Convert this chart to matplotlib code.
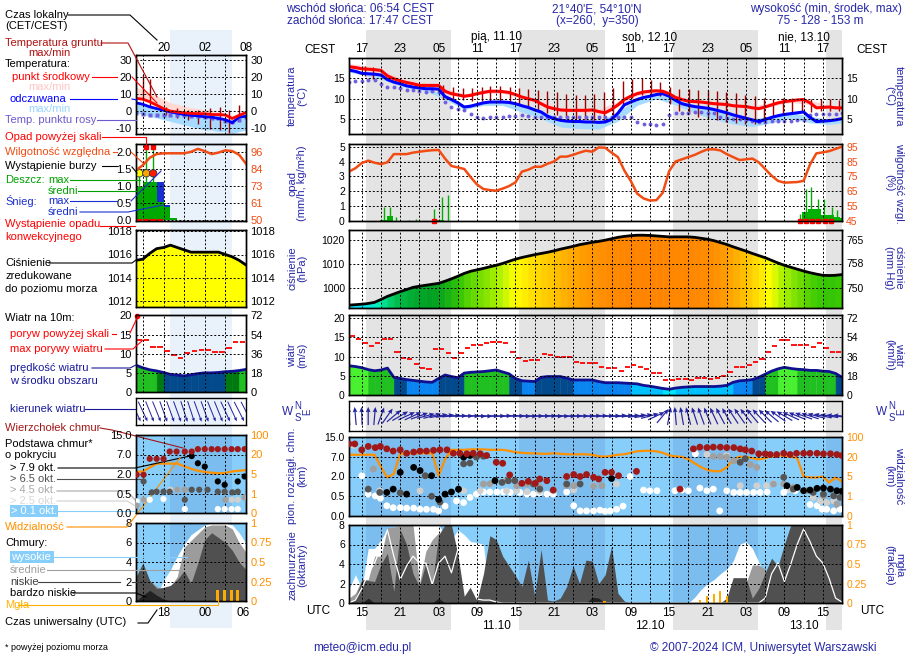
import numpy as np
import matplotlib
matplotlib.use('Agg')
import matplotlib.pyplot as plt
from matplotlib.lines import Line2D
from matplotlib.patches import Rectangle
from matplotlib.colors import LinearSegmentedColormap, Normalize
import matplotlib.transforms as mtransforms

plt.rcParams['font.family'] = ['Liberation Sans', 'DejaVu Sans']

W, H = 910, 660
fig = plt.figure(figsize=(W / 100, H / 100), dpi=100)
fig.patch.set_facecolor('white')

# ======================= DATA (main meteogram, hourly; hour 0 = 13 UTC 10.10) =======================
hours = np.arange(78)
cest_labels = ['17', '23', '05', '11', '17', '23', '05', '11', '17', '23', '05', '11', '17']
utc_labels = ['15', '21', '03', '09', '15', '21', '03', '09', '15', '21', '03', '09', '15']
day_hours = [23, 47, 71]
day_labels_top = ['pią, 11.10', 'sob, 12.10', 'nie, 13.10']
day_labels_bottom = ['11.10', '12.10', '13.10']
night_spans = [(2.7, 15.9), (26.6, 40.0), (50.6, 63.9), (74.5, 77.0)]

temp = [17.7, 17.5, 17.2, 17.1, 17.0, 16.8, 15.5, 14.8, 14.3, 13.9,
        13.6, 13.2, 13.2, 13.2, 13.2, 11.8, 11.2, 10.9, 10.6, 10.8,
        11.2, 11.5, 11.8, 11.8, 11.7, 11.5, 11.0, 10.4, 10.0, 9.6,
        8.8, 8.0, 7.6, 7.3, 7.2, 7.2, 7.2, 7.2, 7.3, 6.9,
        6.6, 7.4, 8.5, 9.8, 10.6, 11.2, 11.6, 11.8, 11.9, 11.8,
        11.2, 10.3, 9.8, 9.4, 9.3, 9.2, 9.0, 8.8, 8.7, 8.6,
        8.3, 8.2, 8.1, 7.8, 7.6, 8.0, 8.5, 9.0, 9.3, 9.5,
        9.7, 9.8, 9.0, 7.8, 7.9, 8.0, 7.8, 7.8]
feels = [16.9, 16.6, 16.1, 16.0, 15.9, 15.7, 14.6, 14.0, 13.6, 13.1,
         12.8, 12.6, 12.4, 12.4, 12.3, 10.5, 9.8, 9.0, 8.0, 8.2,
         8.6, 9.0, 9.2, 9.2, 9.2, 9.1, 8.8, 8.3, 7.9, 7.3,
         6.8, 5.8, 5.2, 4.8, 4.6, 4.5, 4.5, 4.4, 4.4, 4.3,
         4.4, 5.0, 6.5, 8.5, 9.2, 9.8, 10.3, 10.6, 11.0, 11.2,
         10.6, 9.6, 8.8, 8.4, 8.1, 7.9, 7.7, 7.4, 7.0, 6.6,
         6.1, 5.7, 5.3, 4.9, 4.5, 5.0, 5.5, 5.9, 6.2, 6.4,
         6.6, 6.8, 5.5, 4.5, 4.6, 4.7, 4.9, 5.2]
dew = [14.0, 14.2, 14.3, 14.4, 14.4, 13.6, 12.9, 12.7, 12.5, 12.2,
       12.0, 11.8, 11.7, 11.8, 11.6, 9.2, 8.0, 7.5, 7.2, 6.4,
       5.7, 5.4, 5.6, 5.6, 5.7, 5.9, 5.8, 6.0, 5.8, 5.7,
       5.6, 5.5, 5.5, 5.5, 5.5, 5.6, 5.5, 5.5, 5.6, 5.5,
       5.5, 5.5, 5.5, 5.5, 5.5, 4.3, 4.0, 3.8, 3.7, 4.0,
       6.0, 6.6, 6.6, 6.6, 6.8, 6.7, 6.6, 6.5, 5.6, 5.3,
       5.2, 5.0, 4.8, 4.6, 4.5, 4.5, 4.6, 4.6, 4.7, 4.7,
       4.8, 4.8, 6.0, 6.3, 6.4, 6.4, 6.4, 6.6]
band_hours = [0, 3, 6, 9, 12, 15, 18, 21, 24, 27, 30, 33, 36, 39, 42, 45, 48, 51, 54, 57, 60, 63, 66, 69, 72, 75, 77]
temp_max = [18.5, 17.8, 16.2, 14.5, 13.8, 12.4, 11.2, 12.1, 12.3, 11.0, 9.3, 7.8, 7.7, 7.5, 9.3, 11.9, 12.5, 10.8,
            9.8, 9.3, 8.8, 8.3, 9.1, 10.1, 9.6, 8.4, 8.2]
temp_min = [17.3, 16.8, 15.2, 13.6, 12.9, 11.4, 10.3, 11.2, 11.3, 10.0, 8.4, 7.0, 6.8, 6.5, 8.2, 10.7, 11.5, 9.9,
            9.0, 8.5, 8.0, 7.5, 8.2, 9.1, 8.6, 7.6, 7.5]
feels_max = [17.2, 16.3, 15.0, 13.4, 12.7, 10.8, 8.4, 9.4, 9.5, 8.6, 7.1, 5.1, 4.8, 4.6, 6.8, 10.1, 11.3, 9.9,
             8.4, 7.7, 6.4, 5.2, 5.8, 6.7, 5.8, 5.0, 5.5]
feels_min = [16.4, 15.5, 14.2, 12.6, 11.9, 9.8, 7.4, 8.4, 8.4, 6.8, 5.2, 3.2, 2.8, 2.7, 4.6, 8.4, 10.0, 8.5,
             6.5, 5.0, 3.9, 3.3, 4.2, 5.2, 4.2, 3.8, 4.2]
gt_hours = [2.5, 3.8, 14.7, 16.3, 17.8, 19.2, 20.7, 22.1, 23.6, 25.1, 26.6, 28.0, 29.5, 31.0, 32.5, 33.9, 35.4,
            36.9, 38.3, 39.8, 41.3, 42.8, 44.2, 45.7, 47.2, 48.6, 50.1, 51.6, 53.1, 54.5, 56.0, 57.5, 58.9,
            60.4, 61.9, 63.4, 64.8, 66.3, 67.8, 69.2, 70.7, 72.2, 73.7, 75.1, 76.6]
gt_max = [17.8, 17.6, 13.4, 12.8, 12.6, 12.6, 12.8, 13.0, 13.0, 12.8, 12.6, 12.4, 12.2, 11.8, 11.5, 11.2, 11.0,
          11.0, 11.2, 11.5, 12.6, 14.2, 14.8, 15.0, 14.6, 14.0, 12.8, 12.4, 12.4, 12.2, 12.0, 11.8, 11.6,
          11.4, 11.0, 10.6, 10.2, 10.0, 10.2, 10.2, 10.0, 10.0, 10.0, 10.0, 9.8]
gt_min = [15.5, 14.8, 10.0, 10.0, 9.8, 9.5, 9.4, 9.3, 9.2, 9.0, 8.6, 7.8, 7.2, 6.6, 6.0, 5.5, 5.2,
          5.0, 4.8, 4.4, 6.0, 8.8, 10.2, 10.8, 11.0, 10.6, 8.8, 7.0, 6.2, 5.6, 5.2, 4.8, 4.4,
          4.2, 4.0, 3.8, 4.5, 5.5, 6.2, 6.6, 6.8, 6.8, 7.0, 7.0, 7.0]

rh = [78.2, 80.5, 84, 85.6, 84.2, 83.3, 84.5, 90, 90, 90,
      91, 91.6, 92.2, 92.6, 92.8, 87, 82, 81, 80, 74.5,
      69.5, 66.5, 65.8, 65.4, 66.8, 68.5, 71, 78.2, 79.5, 81.5,
      81.5, 83.5, 85, 88.3, 88.3, 89.5, 91, 92.3, 91.6, 94.5,
      94.3, 91, 88, 79, 72, 63.5, 60.2, 58.8, 59, 64,
      78.5, 85, 86.5, 88, 89.5, 91.5, 93.2, 93.2, 92.5, 90,
      88, 86, 86.5, 87, 84.5, 80, 75.5, 72, 70.8, 71,
      71.2, 72, 83, 90.5, 91.2, 92, 93.5, 95]
rain_mean_hours = [4.9, 5.9, 12.9, 13.9, 70.7, 71.7, 72.7, 73.7, 74.7, 75.7, 76.7]
rain_mean_vals = [0.05, 0.34, 0.04, 0.05, 0.63, 0.78, 0.78, 0.4, 0.4, 0.3, 0.2]
rain_max_hours = [5.4, 6.4, 7.4, 9.4, 10.5, 13.3, 14.5, 15.4, 70.5, 71.3, 72.2, 73.3, 74.2, 75.4, 76.2]
rain_max_vals = [0.96, 0.96, 0.25, 0.08, 0.12, 0.78, 1.64, 1.75, 0.5, 2.13, 2.26, 1.46, 1.46, 0.96, 0.74]
occ_hours = [13.3, 70.5, 71.3, 72.3, 73.3, 74.3, 75.3]

pressure = [992.6, 992.8, 993.0, 993.3, 993.8, 995.0, 996.3, 997.3, 998.3, 999.2,
            1000.1, 1000.6, 1001.0, 1001.4, 1001.8, 1002.7, 1003.7, 1004.8, 1006.0, 1006.9,
            1007.5, 1008.1, 1008.8, 1009.4, 1010.2, 1011.1, 1012.0, 1012.7, 1013.3, 1013.9,
            1014.4, 1014.9, 1015.5, 1016.2, 1016.8, 1017.4, 1018.1, 1018.6, 1019.1, 1019.5,
            1020.0, 1020.6, 1021.2, 1021.6, 1021.9, 1022.1, 1022.1, 1022.0, 1021.8, 1021.6,
            1021.4, 1021.4, 1021.4, 1021.4, 1021.2, 1020.8, 1020.4, 1019.8, 1019.0, 1018.2,
            1017.2, 1016.3, 1015.4, 1014.4, 1013.5, 1012.6, 1011.5, 1010.4, 1009.4, 1008.6,
            1007.8, 1007.0, 1006.3, 1005.7, 1005.2, 1005.1, 1005.2, 1005.5]

wind = [7.6, 7.4, 7.1, 6.6, 6.3, 6.5, 7.0, 4.6, 4.3, 4.0,
        3.8, 3.6, 3.4, 3.3, 4.3, 5.2, 4.8, 4.5, 5.7, 5.9,
        6.0, 6.1, 6.3, 6.5, 6.0, 5.5, 4.3, 3.7, 3.6, 3.5,
        4.6, 4.8, 4.8, 4.8, 4.4, 3.9, 3.9, 3.9, 3.9, 3.5,
        3.2, 3.2, 3.2, 3.1, 3.0, 2.9, 2.5, 2.3, 2.0, 1.7,
        1.5, 1.8, 2.0, 2.1, 2.2, 2.2, 2.2, 2.2, 2.3, 2.5,
        3.3, 3.7, 3.8, 4.0, 4.6, 5.4, 6.2, 6.8, 7.2, 6.9,
        6.7, 6.6, 6.4, 6.4, 6.2, 6.1, 5.6, 4.6]
gust = [15.4, 14.5, 13.5, 12.8, 13.5, 14.5, 14.5, 11.1, 9.6, 9.3,
        8.1, 7.0, 6.7, 11.9, 11.9, 11.0, 9.6, 11.0, 12.2, 13.0,
        13.0, 13.5, 13.7, 13.7, 13.5, 11.3, 9.6, 8.9, 9.1, 9.1,
        10.7, 10.4, 9.8, 9.8, 9.8, 8.5, 8.3, 8.4, 8.4, 7.4,
        7.0, 7.0, 6.3, 7.4, 7.8, 7.4, 6.7, 5.8, 5.8, 3.9,
        3.9, 4.1, 4.1, 3.9, 4.5, 4.5, 4.2, 4.3, 5.0, 6.1,
        7.4, 7.4, 7.8, 8.5, 9.3, 11.3, 12.8, 14.3, 14.3, 13.0,
        13.0, 13.0, 12.6, 13.5, 12.2, 11.1, 11.1]
wdir = [175, 175, 178, 180, 185, 200, 215, 230, 240, 245,
        245, 250, 255, 255, 260, 262, 265, 268, 270, 270,
        272, 272, 270, 270, 268, 268, 270, 272, 272, 270,
        270, 270, 272, 272, 272, 270, 270, 270, 268, 268,
        268, 268, 265, 265, 265, 262, 260, 255, 245, 220,
        190, 175, 170, 165, 162, 160, 158, 155, 152, 150,
        147, 145, 142, 140, 137, 135, 130, 125, 120, 115,
        112, 110, 108, 105, 102, 100, 97, 95]

vis = [28, 28, 28, 28, 28, 12, 4.8, 7, 32, 34,
       34, 34, 34, 34, 5.6, 18, 48, 48, 48, 50,
       50, 50, 48, 48, 48, 44, 38, 36, 34, 34,
       32, 32, 34, 32, 30, 30, 30, 30, 28, 22,
       20, 24, 28, 30, 36, 42, 44, 44, 42, 36,
       26, 21, 20, 18, 15, 12, 10, 9, 9, 12,
       18, 20, 20, 19, 18, 19, 22, 26, 24, 20,
       19, 5, 4.8, 4.8, 5, 3.8, 4.8, 4]
tops_h = [0, 0.9, 2.0, 3.0, 4.1, 4.9, 5.9, 6.9, 8.0, 9.0, 10.1, 11.1, 12.1, 13.2, 14.2, 15.3, 16.3, 17.3, 18.4,
          19.4, 20.5, 21.5, 23.0, 24.0, 25.1, 27.0, 28.0, 29.1, 29.8, 30.9, 31.9, 34.0, 35.1, 36.1, 37.1, 38.2,
          39.0, 40.0, 41.0, 42.1, 44.9, 51.7, 53.8, 54.8, 55.9, 56.9, 58.0, 59.0, 60.1, 61.1, 61.9, 62.9, 64.0,
          65.0, 65.8, 66.8, 67.9, 68.9, 69.9, 71.0, 72.0, 73.1, 74.1, 75.2, 76.2, 77.0]
tops_km = [12.2, 12.2, 9.8, 11.2, 10.7, 11.2, 10.2, 9.3, 9.8, 8.4, 8.9, 9.3, 9.3, 9.6, 9.8, 9.8, 8.4, 8.4, 8.2,
           8.4, 8.2, 7.5, 5.6, 5.35, 2.4, 1.48, 1.63, 1.48, 1.81, 1.68, 0.97, 2.0, 2.5, 2.0, 2.5, 1.94,
           1.81, 3.05, 3.05, 2.2, 3.3, 1.04, 10.2, 10.9, 10.7, 10.9, 10.9, 10.7, 10.7, 10.2, 9.8, 9.3, 8.2,
           8.2, 7.9, 7.9, 8.4, 7.9, 8.4, 8.4, 8.4, 8.4, 8.2, 8.2, 7.9, 7.5]
black_h = [5.9, 6.9, 8.0, 9.0, 10.1, 11.1, 12.9, 14.0, 15.0, 16.0, 17.1, 17.9, 18.9, 22.8, 41.0, 68.4, 70.0,
           71.0, 72.0, 73.1, 74.1, 75.2, 76.2, 77.0]
black_km = [0.79, 1.04, 3.05, 0.66, 4.3, 3.5, 2.2, 0.42, 0.66, 0.82, 1.04, 6.9, 7.5, 1.68, 1.85, 1.3, 1.17,
            0.92, 0.97, 1.1, 1.12, 1.04, 0.92, 0.88]
dgrey_h = [3.0, 4.8, 8.0, 11.9, 12.9, 14.2, 17.9, 18.9, 19.9, 21.0, 23.9, 24.9, 25.9, 28.8, 29.8, 34.0, 36.1,
           61.1, 61.9, 67.9, 69.4, 72.5, 74.1, 75.7, 76.7]
dgrey_km = [1.04, 0.79, 0.76, 2.2, 0.5, 0.35, 5.2, 5.4, 6.9, 7.2, 1.55, 1.68, 1.68, 1.43, 1.04, 1.43, 1.43,
            5.6, 6.5, 1.94, 1.04, 0.79, 0.66, 0.53, 0.47]
grey_h = [3.8, 21.0, 22.0, 24.6, 26.2, 27.8, 29.8, 34.0, 35.1, 38.2, 39.5, 56.9, 58.0, 59.0, 60.1, 62.7, 63.7,
          66.3, 67.9, 69.4, 71.5, 74.1, 76.2]
grey_km = [3.9, 1.43, 1.45, 1.68, 1.3, 1.43, 1.17, 1.3, 1.3, 1.27, 1.3, 7.1, 7.1, 6.9, 6.0, 5.0, 4.3,
           1.43, 1.43, 1.17, 0.92, 0.53, 0.3]
lgrey_h = [0.7, 4.8, 11.1, 17.9, 20.5, 24.6, 26.2, 27.8, 29.8, 31.9, 35.1, 38.2, 41.8, 55.9, 59.0, 61.1, 63.7,
           65.2, 66.3, 68.9, 72.5, 73.6, 74.6, 75.7]
lgrey_km = [11.6, 0.92, 0.92, 0.92, 0.92, 0.92, 0.92, 0.85, 0.87, 0.92, 0.97, 1.3, 1.43, 7.9, 7.5, 1.3, 1.3,
            1.3, 1.45, 1.04, 0.47, 0.38, 0.34, 0.38]
white_h = [2.0, 3.0, 4.1, 4.9, 5.9, 6.9, 8.0, 9.0, 10.1, 11.1,
           12.1, 13.2, 14.0, 15.0, 16.8, 17.9, 18.9, 19.9, 21.0, 22.0,
           23.1, 24.1, 25.2, 26.7, 27.8, 28.8, 29.8, 30.9, 31.9, 34.0,
           35.1, 36.1, 37.1, 38.2, 39.2, 40.0, 40.8, 41.8, 42.8, 43.9,
           46.0, 47.0, 48.1, 50.9, 52.0, 53.0, 54.1, 54.8, 55.9, 56.9,
           57.9, 59.0, 60.1, 61.1, 62.1, 63.2, 64.2, 65.3, 67.9, 68.6,
           69.7, 72.0, 73.1, 73.9, 74.6, 75.7, 76.7]
white_km = [2.2, 0.66, 0.53, 0.45, 0.26, 0.21, 0.21, 0.2, 0.2, 0.17,
            0.17, 0.17, 0.13, 0.25, 0.38, 0.34, 0.47, 0.66, 0.82, 0.82,
            0.82, 0.82, 0.79, 0.79, 0.66, 0.66, 0.76, 0.66, 0.66, 0.82,
            0.26, 0.13, 0.13, 0.13, 0.15, 0.12, 0.13, 0.17, 0.25, 2.0,
            0.97, 0.92, 0.92, 0.92, 0.97, 0.92, 8.2, 1.12, 0.92, 1.04,
            0.13, 0.92, 0.79, 0.79, 0.79, 0.79, 0.79, 0.82, 0.79, 1.04,
            0.92, 0.29, 0.26, 0.17, 0.17, 0.13, 0.17]

cloud_high = ([1.4, 2.9, 1.5, 5.6, 5.6, 6.5, 7.5, 7.8, 8, 8, 8, 8, 8, 8, 8, 7.0, 6.5, 7.5, 7.0, 6.3, 6.2, 6.0, 0.3]
              + [0] * 30 +
              [0, 0.6, 1.4, 2.0, 2.4, 3.0, 3.5, 4.3, 6.0, 6.3, 5.6, 4.2, 2.5, 1.0, 0.5, 2.0, 5.0,
               8, 8, 8, 8, 8, 8, 8, 8])
cloud_mid = ([0.5, 1.0, 2.4, 2.4, 4.8, 4.8, 7.7, 7.8, 8, 8, 8, 2.0, 5.3, 6.5, 7.2, 6.0, 3.0]
             + [0] * 45 +
             [2.0, 3.9, 3.9, 3.5, 1.0, 3.0, 4.8, 6.5, 8, 8, 8, 8, 8, 8, 8, 7.9])
cloud_low = ([0, 0.5, 2.4, 2.3, 2.2, 4.0, 5.1, 1.2, 7.5, 6.0, 3.0, 1.7, 4.1, 1.8, 7.0, 8, 8, 5.0, 0.7, 1.7,
              0.3, 3.0, 6.9, 6.5, 4.8, 3.8, 2.8, 1.7, 4.4, 0.7, 5.5, 0.3, 0.2, 0.5, 1.7, 3.8, 2.0, 4.4,
              4.3, 2.0, 2.9, 5.8, 1.0, 0.2]
             + [0] * 15 +
             [0.5, 2.6, 2.6, 2.6, 0.5, 1.5, 3.1, 4.6, 3.8, 6.0, 8, 8, 8, 8, 8, 8, 8, 8, 8])
cloud_vlow = [0, 0, 0, 0.5] + [0] * 10 + [0.5] + [0] * 23 + [0.6, 0.5] + [0] * 38
cloud_line = ([0, 0.3, 1.5, 3.0, 4.1, 5.8, 7.5, 4.8, 2.4, 3.8, 4.8, 4.1, 4.1, 1.9, 4.1, 4.8, 3.1, 5.5, 3.4,
               1.7, 0.4, 0.3, 0.3, 0.1]
              + [0] * 41 +
              [0.5, 3.0, 4.1, 2.2, 4.0, 6.0, 7.6, 6.3, 4.8, 4.1, 2.5, 0.5, 0.1])
fog_hours = [39.9, 54.8, 55.9, 57.0, 58.0, 59.0]
fog_frac = [0.02, 0.04, 0.09, 0.12, 0.15, 0.09]

# ======================= DATA (left legend mini chart; hour 0 = 14 UTC) =======================
hours_m = np.arange(17)
night_m = (4.9, 13.9)
temp_m = [7.5, 7.0, 5.5, 3.5, 1.5, 0.0, -0.5, -1.0, -1.3, -1.5, -1.5, -2.0, -2.0, -2.3, -4.3, -2.5, -0.8]
feels_m = [4.9, 4.0, 2.5, 1.5, 0.6, -0.5, -1.2, -2.0, -2.4, -2.8, -3.3, -3.5, -4.3, -5.0, -6.8, -3.5, -3.0]
dew_m = [-1.3, -1.5, -2.2, -2.5, -2.0, -2.0, -2.5, -2.3, -3.0, -3.0, -3.5, -4.0, -4.0, -5.5, -6.5, -5.0, -3.5]
temp_max_m = [14, 13, 11, 9, 7, 5, 4, 3, 2, 1.5, 1, 0.5, 0, -1, -2.5, -1, 0.5]
feels_min_m = [-1, -2, -3, -4, -5, -6, -7, -8, -9, -10, -11, -11, -12, -12, -13, -12, -11]
gt_m_hours = [1, 2, 4.4, 5.9, 7.6, 9.0, 10.7, 12.2, 13.6, 15.0]
gt_m_max = [21, 19, 2.5, 1.6, 0.6, 0.6, 1.6, 2.5, 0.6, 3.5]
gt_m_min = [6.5, 2.5, -2.4, -4.3, -5.3, -7.3, -10.2, -11.2, -13, -2.4]
rh_m = [83.6, 87, 92, 94.5, 95, 95, 95, 95, 96, 98, 96.5, 94.5, 95.5, 97, 96.5, 94, 88]
rain_mean_m_hours = [0, 1, 2, 3, 4, 5]
rain_mean_m = [0.98, 1.12, 1.12, 0.54, 0.38, 0.05]
snow_mean_m_hours = [3, 4]
snow_mean_m = [1.12, 0.44]
rain_max_m_hours = [0.5, 1.5, 2.5]
rain_max_m = [1.37, 2.15, 2.15]
storm_m_hours = [0.5, 1.5, 2.5]
storm_m_colors = ['#ffff00', '#ffa500', '#ff1a00']
over_m_hours = [1.5, 2.5]
occ_m_hours = [0.5, 1.5, 2.5, 3.5]
pres_m = [1015.5, 1015.6, 1016.1, 1016.5, 1016.6, 1016.8, 1016.6, 1016.4, 1016.2, 1016.2, 1016.2, 1016.2,
          1016.2, 1016.0, 1015.8, 1015.5, 1015.1]
wind_m = [7.0, 6.3, 5.8, 5.5, 5.1, 4.6, 4.4, 4.2, 4.5, 4.8, 5.0, 5.0, 5.1, 5.3, 5.4, 5.6, 5.9]
gust_m = [13.6, 13.6, 11.7, 11.7, 10.6, 9.7, 8.8, 10.1, 10.7, 11.0, 11.0, 10.5, 10.5, 11.6, 13.0, 13.0]
gust_over_m_hours = [0.2]
wdir_m = [335, 335, 338, 338, 340, 340, 340, 342, 342, 340, 340, 338, 338, 335, 335, 333, 333]
tops_m_h = [0.1, 1.1, 2.0, 3.0, 4.0, 4.9, 5.9, 7.1, 8.1, 9.0, 10.0, 11.0, 11.9, 12.9, 13.9, 14.8, 15.8]
tops_m_km = [1.94, 1.94, 5.9, 5.9, 5.9, 8.2, 8.2, 8.2, 8.2, 9.2, 9.2, 9.2, 9.2, 9.2, 9.2, 9.2, 9.2]
black_m_h = [8.1, 9.0, 10.0, 11.9, 12.9, 14.8, 15.8]
black_m_km = [6.6, 4.75, 3.9, 1.43, 1.17, 1.43, 1.81]
dgrey_m_h = [1.1, 2.3, 3.0, 4.0, 4.9, 7.1, 8.1, 9.2, 10.4, 11.9, 12.9, 14.0, 14.8]
dgrey_m_km = [1.43, 0.59, 0.64, 0.64, 0.64, 0.34, 0.79, 0.79, 0.79, 0.64, 0.64, 0.59, 0.64]
grey_m_h = [0.1, 1.1, 6.0, 7.1, 13.0, 15.8]
grey_m_km = [0.19, 0.34, 0.79, 0.79, 0.34, 0.4]
lgrey_m_h = [5.0, 6.0, 13.9, 14.8]
lgrey_m_km = [0.79, 0.79, 0.34, 0.34]
white_m_h = [0.1, 1.1, 2.0, 4.0, 7.1, 11.9, 12.9, 13.9, 14.8]
white_m_km = [0.3, 0.34, 0.34, 0.36, 0.1, 0.1, 0.1, 0.1, 0.1]
vis_m = [6.5, 7, 10, 13, 13, 13, 13, 11, 9, 7.5, 6.5, 6, 5.5, 5.8, 7, 7.5, 8]
high_m = [0, 0, 0, 0.5, 2.1, 3.2, 4.6, 5.8, 6.8, 7.3, 7.8, 8, 8, 8, 7.8, 7.0, 5.9]
mid_m = [2.1, 2.1, 2.1, 1.5, 1.1, 1.5, 2.5, 5.5, 6.2, 6.9, 7.6, 7.8, 7.8, 7.8, 7.4, 6.0, 5.0]
low_m = [2.5, 3.9, 2.1, 1.3, 1.4, 1.6, 2.2, 3.1, 1.8, 3.9, 6.3, 7.0, 6.5, 6.0, 5.2, 4.0, 3.2]
vlow_m = [0, 0.6, 1.1, 0.6, 0.2, 0, 0, 0, 0, 0, 0, 0, 0, 0, 0, 0, 0]
fog_m_hours = [11.9, 12.9, 13.9, 14.8]
fog_m = [0.14, 0.14, 0.14, 0.14]

for arr in (temp, feels, dew, rh, pressure, wind, wdir, vis, cloud_high, cloud_mid, cloud_low, cloud_vlow, cloud_line):
    assert len(arr) == 78, len(arr)
assert len(gust) == 77

# ======================= STYLE =======================
BLUE_T = '#2828a8'
GREY_N = '#e4e4e4'
MINI_N = '#e9f1fb'
SKY = '#87cefa'
SKY_N = '#7bbdee'
RHC = '#f04c14'
VISC = '#ff9000'
DRED = '#a01818'
GRID = dict(color='black', linestyle=(0, (2, 2)), linewidth=0.7)
HPA_PER_MMHG = 1.33322
cb_ticks = [0.0, 0.5, 2.0, 7.0, 15.0]
vis_ticks = [0, 1, 5, 20, 100]
steps = [0, 1, 2, 3, 4]


def cb_fwd(v):
    return np.interp(v, cb_ticks, steps)


def cb_inv(p):
    return np.interp(p, steps, cb_ticks)


def vis_fwd(v):
    return np.interp(v, vis_ticks, steps)


def vis_inv(p):
    return np.interp(p, steps, vis_ticks)


def px_ax(x0, y0, x1, y1):
    return fig.add_axes([x0 / W, 1 - y1 / H, (x1 - x0) / W, (y1 - y0) / H])


def ftext(x, y, s, **kw):
    kw.setdefault('va', 'center')
    kw.setdefault('fontsize', 8)
    fig.text(x / W, 1 - y / H, s, **kw)


def fline(pts, color, lw=0.8):
    fig.add_artist(Line2D([p[0] / W for p in pts], [1 - p[1] / H for p in pts], color=color, lw=lw))


def setup(ax, xlim, vgrid, ylim, yticks, ylabels, fs=7.5, face=None, lcolor='black'):
    if face is None:
        ax.patch.set_visible(False)
    else:
        ax.set_facecolor(face)
    ax.set_xlim(*xlim)
    ax.set_ylim(*ylim)
    ax.set_xticks(vgrid)
    ax.set_xticklabels([])
    ax.set_yticks(yticks)
    ax.set_yticklabels(ylabels, fontsize=fs, color=lcolor)
    ax.tick_params(axis='both', length=0, pad=3)
    ax.grid(True, **GRID)
    ax.set_axisbelow(False)
    for s in ax.spines.values():
        s.set_linewidth(1.0)
        s.set_color('black')


def right(ax, ylim, yticks, ylabels, fs=7.5, color='black', scale=None):
    tw = ax.twinx()
    if scale is not None:
        tw.set_yscale('function', functions=scale)
    tw.set_ylim(*ylim)
    tw.set_yticks(yticks)
    tw.set_yticklabels(ylabels, fontsize=fs, color=color)
    tw.tick_params(length=0, pad=3)
    for s in tw.spines.values():
        s.set_linewidth(1.0)
    return tw


pcmap = LinearSegmentedColormap.from_list('pres', [
    (0.0, '#00e4ff'), (0.07, '#00f0b0'), (0.17, '#00c050'), (0.3, '#00a020'), (0.45, '#40cc00'),
    (0.58, '#a8f000'), (0.66, '#ffff00'), (0.74, '#ffd400'), (0.83, '#ffac00'), (0.92, '#ff9000'),
    (1.0, '#ff8400')])
pnorm = Normalize(992.5, 1022.0)
wind_edges = [1.8, 3.0, 4.0, 5.3, 5.6, 6.8]
wind_cols = ['#00e6ff', '#00c0ff', '#0a84f0', '#034a8c', '#007a10', '#20c020', '#48f030']


def wind_color(v):
    return wind_cols[int(np.searchsorted(wind_edges, v, side='right'))]


def wind_uv(d):
    r = np.deg2rad(np.asarray(d, dtype=float))
    return -np.sin(r), -np.cos(r)


# ======================= BACKGROUND BANDS =======================
bg = px_ax(349, 30, 842, 630)
bg.set_zorder(-5)
bg.set_xlim(0, 77)
bg.axis('off')
for s, e in night_spans:
    bg.axvspan(s, e, color=GREY_N, lw=0)
mbg = px_ax(136, 30, 246, 628)
mbg.set_zorder(-5)
mbg.set_xlim(0, 16)
mbg.axis('off')
mbg.axvspan(night_m[0], night_m[1], color=MINI_N, lw=0)

VG = np.arange(2, 78, 3)
XL = (0, 77)

# ======================= MAIN PANELS =======================
# temperature
axT = px_ax(349, 58, 842, 134)
setup(axT, XL, VG, (1.5, 19.8), [5, 10, 15], ['5', '10', '15'])
axT.fill_between(band_hours, feels_min, feels_max, color='#a6dbff', lw=0)
axT.fill_between(band_hours, temp_min, temp_max, color='#ffcfd2', lw=0, alpha=0.85)
axT.vlines(gt_hours, gt_min, gt_max, color='#a00000', lw=1.0)
axT.plot(hours, dew, 'o', color='#7060e0', ms=2.8, mec='none')
axT.plot(hours, feels, color='#0000ff', lw=2.2)
axT.plot(hours, temp, color='#ff0000', lw=2.2)
right(axT, (1.5, 19.8), [5, 10, 15], ['5', '10', '15'])
axT.set_xticklabels([cest_labels[i // 2] if i % 2 == 0 else '' for i in range(len(VG))])
axT.tick_params(axis='x', labeltop=True, labelbottom=False, pad=2, labelsize=8.5)
tT = mtransforms.blended_transform_factory(axT.transData, fig.transFigure)
for h, lab in zip(day_hours, day_labels_top):
    axT.text(h, 1 - 37 / H, lab, transform=tT, ha='center', va='center', fontsize=8.5, clip_on=False)

# precipitation / humidity
axP = px_ax(349, 144, 842, 221)
setup(axP, XL, VG, (0, 5.18), [0, 1, 2, 3, 4, 5], ['0', '1', '2', '3', '4', '5'])
axP.bar(rain_mean_hours, rain_mean_vals, width=1.0, align='edge', color='#00b000', lw=0)
axP.vlines(rain_max_hours, 0, rain_max_vals, color='#00b000', lw=1.0)
axP.plot(occ_hours, np.zeros(len(occ_hours)), 's', color='#ff0000', ms=2.5, clip_on=False, zorder=5)
twP = right(axP, (45, 96.8), [45, 55, 65, 75, 85, 95], ['45', '55', '65', '75', '85', '95'], color=RHC)
twP.plot(hours, rh, color=RHC, lw=1.8)

# pressure
axPr = px_ax(349, 230, 842, 308)
setup(axPr, XL, VG, (991.4, 1024.3), [1000, 1010, 1020], ['1000', '1010', '1020'])
for i in range(77):
    c = pcmap(pnorm(0.5 * (pressure[i] + pressure[i + 1])))
    axPr.fill_between([i, i + 1], [pressure[i], pressure[i + 1]], 991.4, color=c, lw=0.4)
axPr.plot(hours, pressure, color='black', lw=2)
right(axPr, (991.4 / HPA_PER_MMHG, 1024.3 / HPA_PER_MMHG), [750, 758, 765], ['750', '758', '765'])

# wind speed
axW = px_ax(349, 315, 842, 395)
setup(axW, XL, VG, (0, 20.8), [0, 5, 10, 15, 20], ['0', '5', '10', '15', '20'])
for i in range(77):
    axW.fill_between([i, i + 1], [wind[i], wind[i + 1]], 0, color=wind_color(0.5 * (wind[i] + wind[i + 1])), lw=0.4)
axW.plot(hours, wind, color='#101090', lw=2)
axW.hlines(gust, hours[:-1] + 0.1, hours[:-1] + 0.9, color='#ff0000', lw=1.3)
right(axW, (0, 20.8 * 3.6), [0, 18, 36, 54, 72], ['0', '18', '36', '54', '72'])

# wind direction
axD = px_ax(349, 401, 842, 431)
setup(axD, XL, VG, (-1, 1), [], [])
u, v = wind_uv(wdir)
axD.quiver(hours, np.zeros(78), u, v, angles='uv', pivot='middle', scale_units='inches', scale=5.5,
           width=0.0024, headwidth=4, headlength=4.5, headaxislength=4, color='#2424a0')

# cloud base / visibility
axCb = px_ax(349, 437, 842, 516)
axCb.set_yscale('function', functions=(cb_fwd, cb_inv))
setup(axCb, XL, VG, (0, 15), cb_ticks, ['0.0', '0.5', '2.0', '7.0', '15.0'])
twCb = right(axCb, (0, 100), vis_ticks, ['0', '1', '5', '20', '100'], color=VISC, scale=(vis_fwd, vis_inv))
twCb.patch.set_visible(True)
twCb.set_facecolor(SKY)
for s, e in night_spans:
    twCb.axvspan(s, e, color=SKY_N, lw=0, zorder=0)
twCb.plot(hours, vis, color=VISC, lw=1.6)
twCb.set_zorder(1)
axCb.set_zorder(2)
dot = 24
axCb.scatter(white_h, white_km, s=dot, color='white', edgecolors='none', zorder=3)
axCb.scatter(lgrey_h, lgrey_km, s=dot, color='#d0d0d0', edgecolors='none', zorder=3)
axCb.scatter(grey_h, grey_km, s=dot, color='#a0a0a0', edgecolors='none', zorder=3)
axCb.scatter(dgrey_h, dgrey_km, s=dot, color='#555555', edgecolors='none', zorder=3)
axCb.scatter(black_h, black_km, s=dot, color='black', edgecolors='none', zorder=3)
axCb.scatter(tops_h, tops_km, s=dot, color=DRED, edgecolors='none', zorder=3)

# cloud cover / fog
axC = px_ax(349, 525, 842, 603)
setup(axC, XL, VG, (0, 8), [0, 2, 4, 6, 8], ['0', '2', '4', '6', '8'], face=SKY)
for s, e in night_spans:
    axC.axvspan(s, e, color=SKY_N, lw=0, zorder=0)
axC.fill_between(hours, 0, cloud_high, color='white', lw=0, zorder=1)
axC.fill_between(hours, 0, cloud_mid, color='#9c9c9c', lw=0, zorder=1.1)
axC.fill_between(hours, 0, cloud_low, color='#505050', lw=0, zorder=1.2)
axC.fill_between(hours, 0, cloud_vlow, color='#222222', lw=0, zorder=1.3)
axC.plot(hours, cloud_line, color='white', lw=0.9, zorder=1.5)
twC = right(axC, (0, 1), [0, 0.25, 0.5, 0.75, 1], ['0', '0.25', '0.5', '0.75', '1'], color=VISC)
twC.bar(fog_hours, fog_frac, width=0.35, color='#ffaa00', lw=0)
axC.set_xticklabels([utc_labels[i // 2] if i % 2 == 0 else '' for i in range(len(VG))])
axC.tick_params(axis='x', labelbottom=True, pad=3, labelsize=8.5)
tC = mtransforms.blended_transform_factory(axC.transData, fig.transFigure)
for h, lab in zip(day_hours, day_labels_bottom):
    axC.text(h, 1 - 626 / H, lab, transform=tC, ha='center', va='center', fontsize=8.5, clip_on=False)

# ======================= MINI (legend) PANELS =======================
VGm = [1, 4, 7, 10, 13]
XLm = (0, 16)
FSm = 8
axTm = px_ax(136, 55, 246, 134)
setup(axTm, XLm, VGm, (-13.4, 32.9), [-10, 0, 10, 20, 30], ['-10', '0', '10', '20', '30'], fs=FSm)
axTm.fill_between(hours_m, feels_min_m, feels_m, color='#a6dbff', lw=0)
axTm.fill_between(hours_m, temp_m, temp_max_m, color='#ffd9d2', lw=0)
axTm.vlines(gt_m_hours, gt_m_min, gt_m_max, color='#a00000', lw=1.0)
axTm.plot(hours_m, dew_m, 's', color='#7060e0', ms=2.6, mec='none')
axTm.plot(hours_m, feels_m, color='#0000ff', lw=2)
axTm.plot(hours_m, temp_m, color='#ff0000', lw=2)
right(axTm, (-13.4, 32.9), [-10, 0, 10, 20, 30], ['-10', '0', '10', '20', '30'], fs=FSm)
tTm = mtransforms.blended_transform_factory(axTm.transData, fig.transFigure)
for h, lab in zip([4, 10, 16], ['20', '02', '08']):
    axTm.text(h, 1 - 48 / H, lab, transform=tTm, ha='center', va='center', fontsize=8.5, clip_on=False)

axPm = px_ax(136, 144, 246, 221)
setup(axPm, XLm, VGm, (-0.03, 2.23), [0, 0.5, 1.0, 1.5, 2.0], ['0.0', '0.5', '1.0', '1.5', '2.0'], fs=FSm)
axPm.bar(snow_mean_m_hours, snow_mean_m, width=1.0, align='edge', color='#1a2fd0', lw=0)
axPm.bar(rain_mean_m_hours, rain_mean_m, width=1.0, align='edge', color='#00a800', lw=0)
axPm.vlines(rain_max_m_hours, 0, rain_max_m, color='#00a800', lw=1.0)
axPm.plot(over_m_hours, [2.15] * len(over_m_hours), 's', color='#ff0000', ms=3)
axPm.scatter(storm_m_hours, [1.37] * 3, s=28, c=storm_m_colors, edgecolors='#333333', linewidths=0.6, zorder=5)
axPm.plot(occ_m_hours, [0.0] * len(occ_m_hours), '_', color='#ff0000', ms=5, mew=1.5, zorder=5)
twPm = right(axPm, (50 - 23 * 0.03, 50 + 23 * 2.23), [50, 61.5, 73, 84.5, 96], ['50', '61', '73', '84', '96'],
             fs=FSm, color=RHC)
twPm.plot(hours_m, rh_m, color=RHC, lw=1.8)

axPrm = px_ax(136, 230, 246, 307)
setup(axPrm, XLm, VGm, (1011.5, 1018.1), [1012, 1014, 1016, 1018], ['1012', '1014', '1016', '1018'], fs=FSm)
axPrm.fill_between(hours_m, pres_m, 1011.5, color='#ffff00', lw=0)
axPrm.plot(hours_m, pres_m, color='black', lw=2)
right(axPrm, (1011.5, 1018.1), [1012, 1014, 1016, 1018], ['1012', '1014', '1016', '1018'], fs=FSm)

axWm = px_ax(136, 315, 246, 392)
setup(axWm, XLm, VGm, (0, 20.1), [0, 5, 10, 15, 20], ['0', '5', '10', '15', '20'], fs=FSm)
for i in range(16):
    axWm.fill_between([i, i + 1], [wind_m[i], wind_m[i + 1]], 0,
                      color=wind_color(0.5 * (wind_m[i] + wind_m[i + 1])), lw=0.4)
axWm.plot(hours_m, wind_m, color='#101090', lw=2)
axWm.hlines(gust_m, hours_m[:-1] + 0.1, hours_m[:-1] + 0.9, color='#ff0000', lw=1.3)
axWm.plot(gust_over_m_hours, [19.9], 'o', color='#ff0000', ms=3, clip_on=False)
right(axWm, (0, 20.1 * 3.6), [0, 18, 36, 54, 72], ['0', '18', '36', '54', '72'], fs=FSm)

axDm = px_ax(136, 398, 246, 425)
setup(axDm, XLm, VGm, (-1, 1), [], [])
um, vm = wind_uv(wdir_m)
axDm.quiver(hours_m, np.zeros(17), um, vm, angles='uv', pivot='middle', scale_units='inches', scale=4.6,
            width=0.009, headwidth=3.5, headlength=4, headaxislength=3.5, color='#2424a0')

axCbm = px_ax(136, 435, 246, 513)
axCbm.set_yscale('function', functions=(cb_fwd, cb_inv))
setup(axCbm, XLm, VGm, (0, 15), cb_ticks, ['0.0', '0.5', '2.0', '7.0', '15.0'], fs=FSm)
twCbm = right(axCbm, (0, 100), vis_ticks, ['0', '1', '5', '20', '100'], fs=FSm, color=VISC,
              scale=(vis_fwd, vis_inv))
twCbm.patch.set_visible(True)
twCbm.set_facecolor(SKY)
twCbm.axvspan(night_m[0], night_m[1], color=SKY_N, lw=0, zorder=0)
twCbm.plot(hours_m, vis_m, color=VISC, lw=1.6)
twCbm.set_zorder(1)
axCbm.set_zorder(2)
dm = 20
axCbm.scatter(white_m_h, white_m_km, s=dm, color='white', edgecolors='none', zorder=3)
axCbm.scatter(lgrey_m_h, lgrey_m_km, s=dm, color='#d0d0d0', edgecolors='none', zorder=3)
axCbm.scatter(grey_m_h, grey_m_km, s=dm, color='#a0a0a0', edgecolors='none', zorder=3)
axCbm.scatter(dgrey_m_h, dgrey_m_km, s=dm, color='#555555', edgecolors='none', zorder=3)
axCbm.scatter(black_m_h, black_m_km, s=dm, color='black', edgecolors='none', zorder=3)
axCbm.scatter(tops_m_h, tops_m_km, s=dm, color=DRED, edgecolors='none', zorder=3)

axCm = px_ax(136, 523, 246, 601)
setup(axCm, XLm, VGm, (0, 8), [0, 2, 4, 6, 8], ['0', '2', '4', '6', '8'], fs=FSm, face=SKY)
axCm.axvspan(night_m[0], night_m[1], color=SKY_N, lw=0, zorder=0)
axCm.fill_between(hours_m, 0, high_m, color='white', lw=0, zorder=1)
axCm.fill_between(hours_m, 0, mid_m, color='#9c9c9c', lw=0, zorder=1.1)
axCm.fill_between(hours_m, 0, low_m, color='#505050', lw=0, zorder=1.2)
axCm.fill_between(hours_m, 0, vlow_m, color='#222222', lw=0, zorder=1.3)
twCm = right(axCm, (0, 1), [0, 0.25, 0.5, 0.75, 1], ['0', '0.25', '0.5', '0.75', '1'], fs=FSm, color=VISC)
twCm.bar(fog_m_hours, fog_m, width=0.45, color='#ffaa00', lw=0)
tCm = mtransforms.blended_transform_factory(axCm.transData, fig.transFigure)
for h, lab in zip([4, 10, 15.6], ['18', '00', '06']):
    axCm.text(h, 1 - 613 / H, lab, transform=tCm, ha='center', va='center', fontsize=8.5, clip_on=False)

# ======================= TEXTS =======================
ftext(286, 9, 'wschód słońca: 06:54 CEST', color=BLUE_T, fontsize=8.5)
ftext(287, 21, 'zachód słońca: 17:47 CEST', color=BLUE_T, fontsize=8.5)
ftext(597, 9, "21°40'E, 54°10'N", color=BLUE_T, fontsize=8.5, ha='center')
ftext(597, 21, '(x=260,  y=350)', color=BLUE_T, fontsize=8.5, ha='center')
ftext(902, 9, 'wysokość (min, środek, max)', color=BLUE_T, fontsize=8.5, ha='right')
ftext(820, 21, '75 - 128 - 153 m', color=BLUE_T, fontsize=8.5, ha='center')
ftext(320, 50, 'CEST', fontsize=8.5, ha='center')
ftext(872, 50, 'CEST', fontsize=8.5, ha='center')
ftext(318, 611, 'UTC', fontsize=8.5, ha='center')
ftext(872, 611, 'UTC', fontsize=8.5, ha='center')

for (yc, lab) in [(96, 'temperatura\n(°C)'), (183, 'opad\n(mm/h, kg/m²h)'), (268, 'ciśnienie\n(hPa)'),
                  (355, 'wiatr\n(m/s)'), (476, 'pion. rozciągł. chm.\n(km)'), (565, 'zachmurzenie\n(oktanty)')]:
    ftext(297, yc, lab, rotation=90, ha='center', color=BLUE_T, fontsize=8, linespacing=1.0,
          multialignment='center')
for (yc, lab) in [(96, 'temperatura\n(°C)'), (183, 'wilgotność wzgl.\n(%)'), (268, 'ciśnienie\n(mm Hg)'),
                  (355, 'wiatr\n(km/h)'), (476, 'widzialność\n(km)'), (565, 'mgła\n(frakcja)')]:
    ftext(894, yc, lab, rotation=-90, ha='center', color=BLUE_T, fontsize=8, linespacing=1.0,
          multialignment='center')


def compass(x, y):
    ftext(x, y + 1, 'W', fontsize=8.5, color=BLUE_T, ha='center')
    ftext(x + 10, y - 5, 'N', fontsize=7, color=BLUE_T, ha='center')
    ftext(x + 10, y + 7, 'S', fontsize=7, color=BLUE_T, ha='center')
    ftext(x + 19, y + 1, 'E', fontsize=7, color=BLUE_T, ha='center', rotation=90)


compass(288, 411)
compass(882, 411)

ftext(362, 648, 'meteo@icm.edu.pl', color=BLUE_T, fontsize=8.5, ha='center')
ftext(877, 648, '© 2007-2024 ICM, Uniwersytet Warszawski', color=BLUE_T, fontsize=8.5, ha='right')
ftext(5, 648, '* powyżej poziomu morza', fontsize=6.5)

# legend texts
LF = 8
leg = [
    (5, 15, 'Czas lokalny', 'black'), (5, 26, '(CET/CEST)', 'black'),
    (5, 43, 'Temperatura gruntu', '#b01010'), (28, 53, 'max/min', '#b01010'),
    (5, 64, 'Temperatura:', 'black'), (12, 77, 'punkt środkowy', '#ff0000'),
    (28, 87, 'max/min', '#ffc4c4'), (10, 99, 'odczuwana', '#0000ff'),
    (28, 109, 'max/min', '#98d4ff'), (5, 120, 'Temp. punktu rosy', '#6a5acd'),
    (5, 137, 'Opad powyżej skali', '#ff0000'), (5, 152, 'Wilgotność względna', RHC),
    (5, 166, 'Wystąpienie burzy', 'black'), (5, 180, 'Deszcz:', '#00a000'), (48, 180, 'max', '#00a000'),
    (48, 191, 'średni', '#00a000'), (5, 201, 'Śnieg:', '#1a2fd0'), (48, 201, 'max', '#1a2fd0'),
    (48, 212, 'średni', '#1a2fd0'), (5, 224, 'Wystąpienie opadu', '#ff0000'),
    (5, 237, 'konwekcyjnego', '#ff0000'),
    (5, 263, 'Ciśnienie', 'black'), (5, 276, 'zredukowane', 'black'), (5, 289, 'do poziomu morza', 'black'),
    (5, 318, 'Wiatr na 10m:', 'black'), (10, 334, 'poryw powyżej skali', '#ff0000'),
    (10, 349, 'max porywy wiatru', '#ff0000'), (10, 368, 'prędkość wiatru', '#1a1a9a'),
    (10, 381, 'w środku obszaru', '#1a1a9a'), (10, 409, 'kierunek wiatru', '#1a1a9a'),
    (5, 428, 'Wierzchołek chmur', DRED), (5, 444, 'Podstawa chmur*', 'black'), (5, 455, 'o pokryciu', 'black'),
    (10, 468, '> 7.9 okt.', 'black'), (10, 479, '> 6.5 okt.', '#505050'), (10, 490, '> 4.5 okt.', '#a8a8a8'),
    (10, 501, '> 2.5 okt.', '#d8d8d8'), (5, 527, 'Widzialność', VISC), (5, 543, 'Chmury:', 'black'),
    (10, 570, 'średnie', '#a0a0a0'), (10, 582, 'niskie', '#404040'), (10, 593, 'bardzo niskie', 'black'),
    (5, 605, 'Mgła', '#ffb000'), (5, 622, 'Czas uniwersalny (UTC)', 'black'),
]
for x, y, s, c in leg:
    ftext(x, y, s, color=c, fontsize=LF)
fig.add_artist(Rectangle((10 / W, 1 - 517 / H), 48 / W, 12 / H, transform=fig.transFigure, color=SKY, lw=0))
ftext(11, 511, '> 0.1 okt.', color='white', fontsize=LF)
fig.add_artist(Rectangle((10 / W, 1 - 563 / H), 44 / W, 12 / H, transform=fig.transFigure, color=SKY, lw=0))
ftext(11, 557, 'wysokie', color='white', fontsize=LF)

# leader lines
leaders = [
    ([(68, 15), (130, 15), (157, 40)], 'black'),
    ([(101, 43), (128, 43), (157, 97)], '#b01010'),
    ([(92, 77), (117, 77)], '#ff0000'), ([(132, 77), (157, 103)], '#ff0000'),
    ([(70, 99), (117, 99)], '#0000ff'), ([(132, 99), (137, 100)], '#0000ff'),
    ([(97, 120), (136, 120)], '#6a5acd'),
    ([(102, 137), (146, 137), (146, 147)], '#ff0000'),
    ([(113, 152), (117, 152)], RHC), ([(131, 152), (143, 163)], RHC),
    ([(102, 166), (117, 166)], 'black'), ([(132, 167), (137, 173)], 'black'),
    ([(70, 180), (140, 180)], '#00a000'),
    ([(78, 191), (136, 191)], '#00a000'),
    ([(70, 201), (117, 201)], '#1a2fd0'), ([(131, 201), (161, 171)], '#1a2fd0'),
    ([(80, 212), (128, 212), (163, 205)], '#1a2fd0'),
    ([(100, 226), (135, 226)], '#ff0000'),
    ([(49, 263), (132, 263), (136, 260)], 'black'),
    ([(112, 334), (116, 334)], '#ff0000'), ([(130, 333), (138, 316)], '#ff0000'),
    ([(105, 349), (133, 349), (143, 340)], '#ff0000'),
    ([(92, 368), (130, 368), (136, 365)], '#1a1a9a'),
    ([(85, 409), (135, 409)], '#1a1a9a'),
    ([(100, 428), (112, 430), (183, 448)], DRED),
    ([(58, 468), (135, 468), (190, 456)], 'black'),
    ([(57, 479), (143, 479)], '#505050'),
    ([(57, 491), (127, 491), (137, 502)], '#a8a8a8'),
    ([(57, 501), (127, 501), (137, 507)], '#d0d0d0'),
    ([(58, 511), (135, 511)], SKY),
    ([(67, 527), (127, 527), (180, 458)], VISC),
    ([(54, 557), (187, 557)], SKY),
    ([(47, 570), (193, 570)], '#a0a0a0'),
    ([(38, 582), (120, 582)], '#404040'), ([(132, 582), (137, 582)], '#404040'),
    ([(73, 593), (136, 593), (146, 597)], 'black'),
    ([(18, 605), (218, 605), (218, 598)], '#ffb000'),
    ([(138, 623), (148, 623), (157, 610)], 'black'),
]
for pts, c in leaders:
    fline(pts, c)

fig.savefig('out.png', dpi=100)
